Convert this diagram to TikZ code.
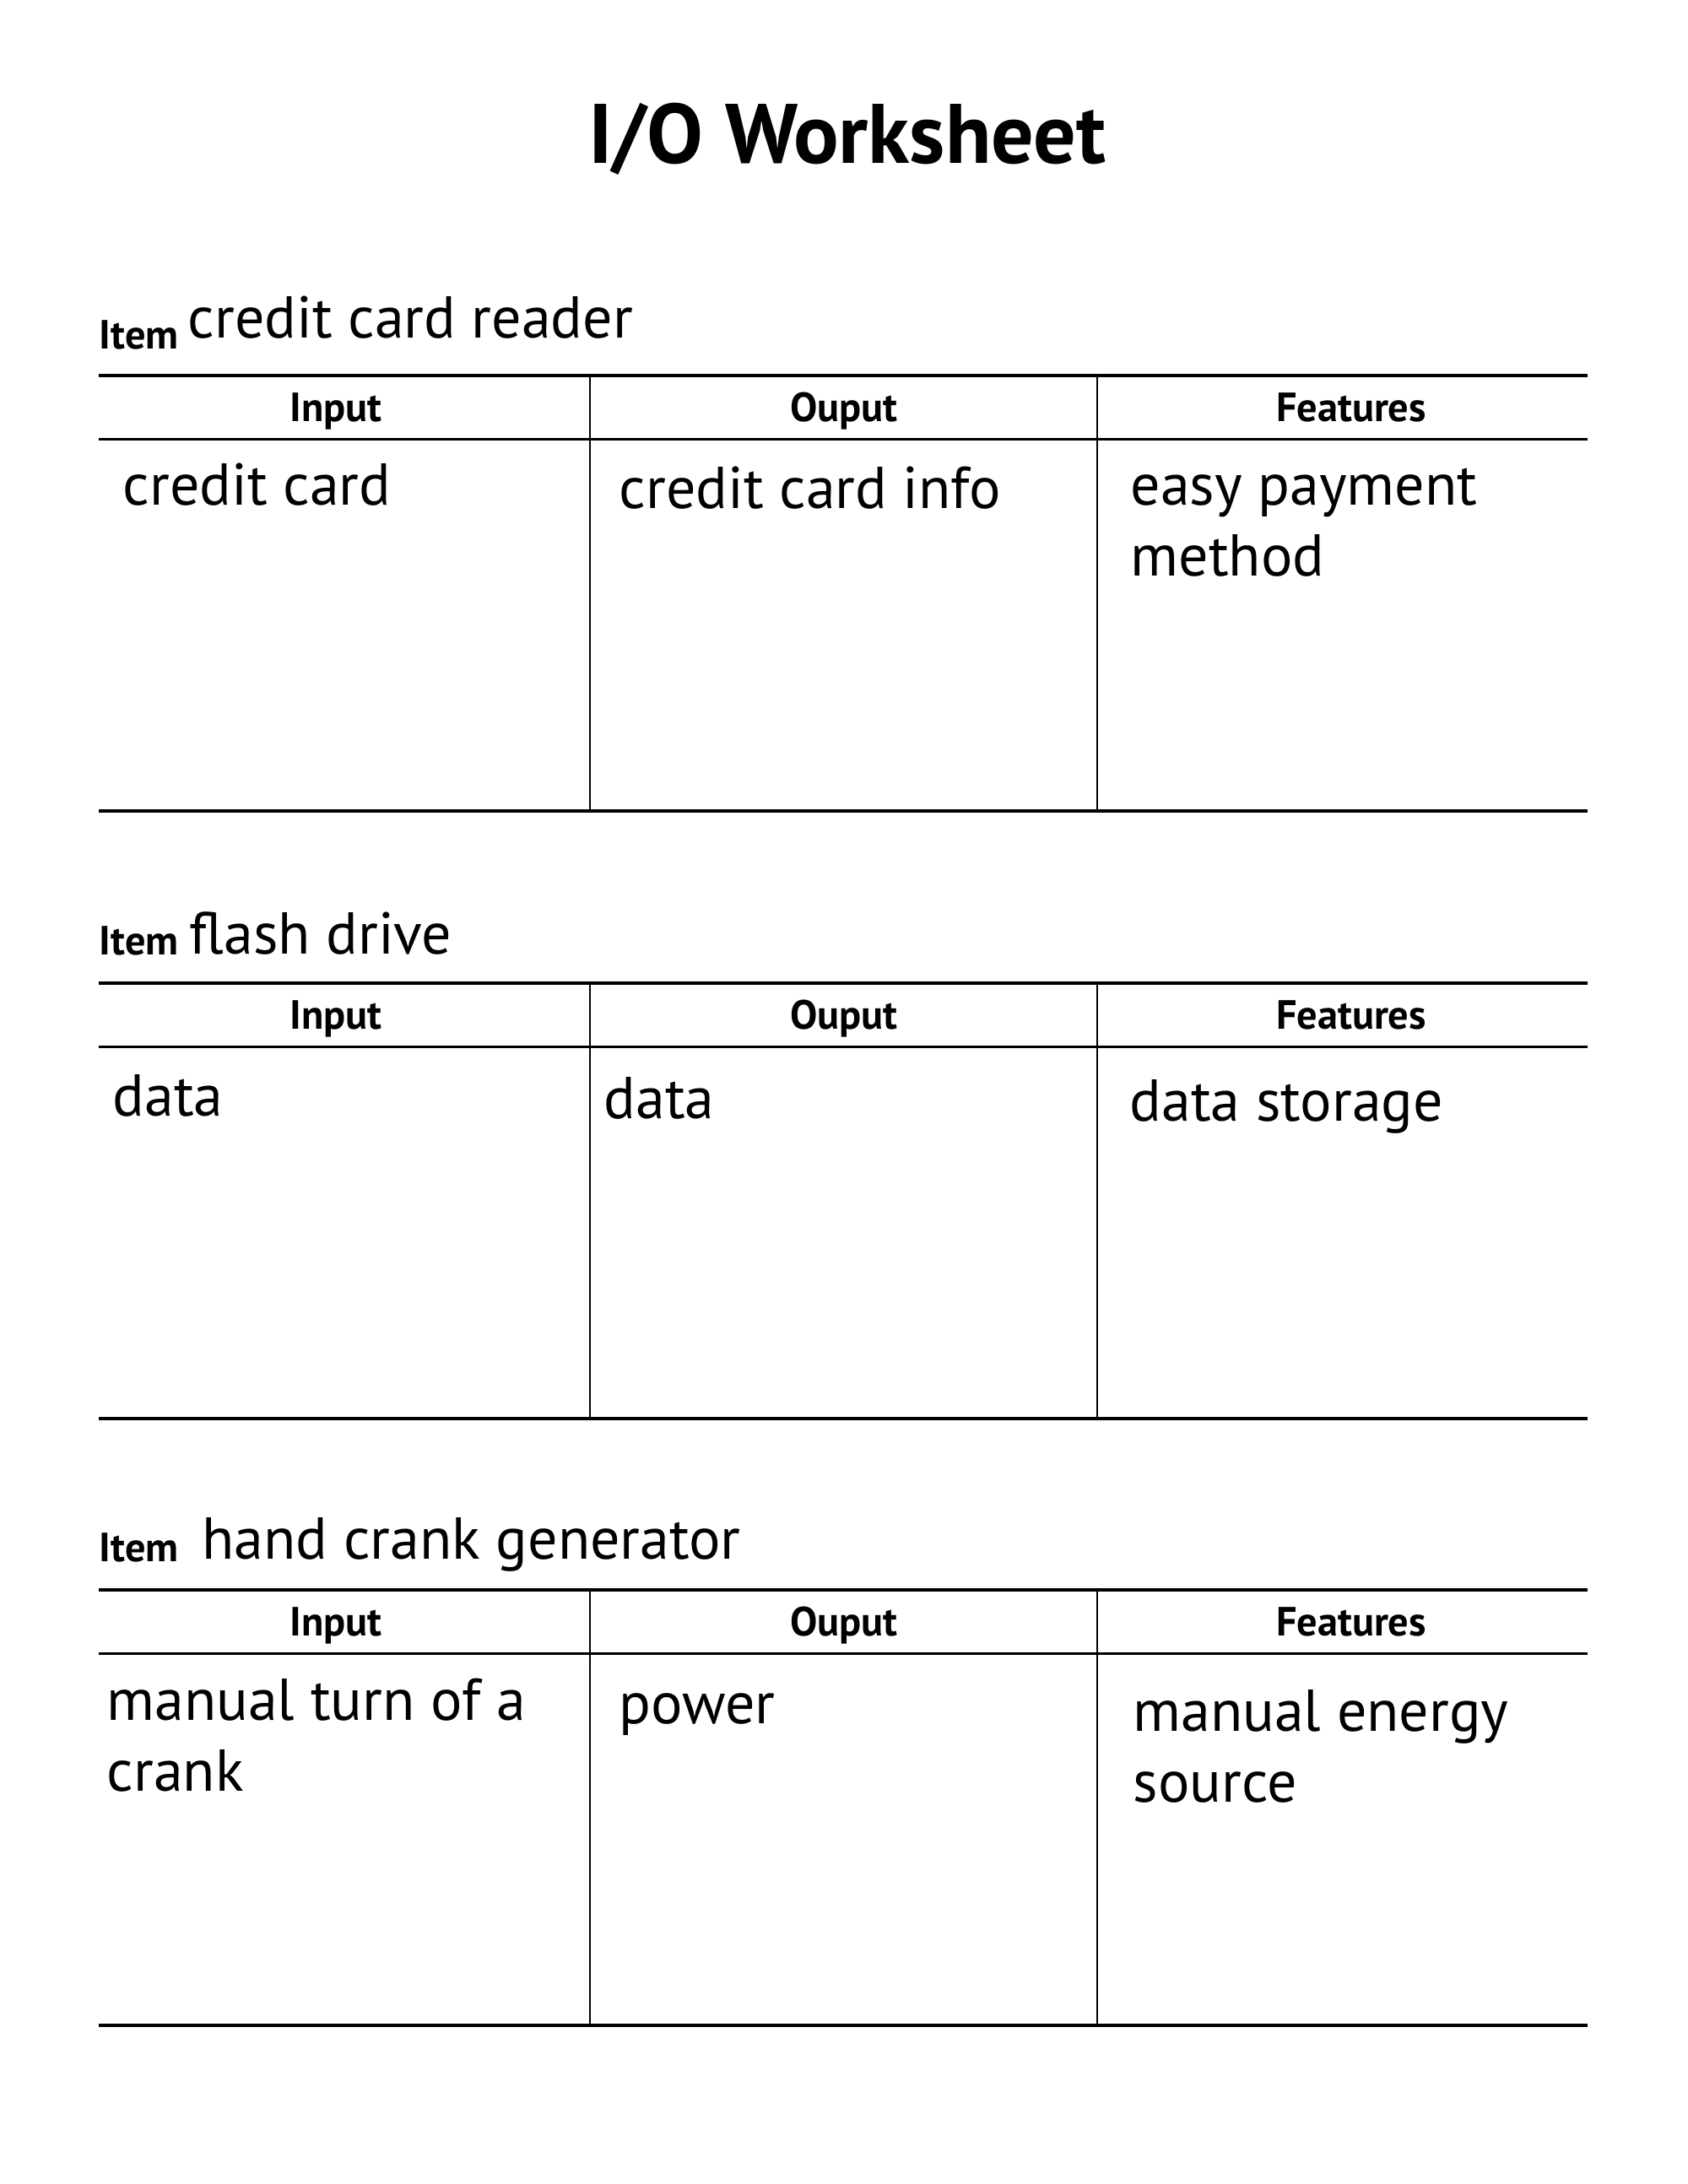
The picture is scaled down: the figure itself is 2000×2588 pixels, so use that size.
\documentclass[tikz,border=0pt]{standalone}
\usepackage{fontspec}
\setmainfont{PT Sans}
\begin{document}
\begin{tikzpicture}[x=0.3pt,y=-0.3pt,
  hline/.style={line width=1.05pt},
  vline/.style={line width=0.8pt},
  titletext/.style={font=\bfseries\fontsize{30}{36}\selectfont, anchor=base, inner sep=0},
  itemlbl/.style={font=\bfseries\fontsize{14.5}{17}\selectfont, anchor=base west, inner sep=0},
  itemname/.style={font=\fontsize{21}{25}\selectfont, anchor=base west, inner sep=0},
  headtext/.style={font=\bfseries\fontsize{14.5}{17}\selectfont, anchor=base, inner sep=0},
  celltext/.style={font=\fontsize{21}{25.2}\selectfont, anchor=base west, inner sep=0, align=left}]
\useasboundingbox (0,0) rectangle (2000,2588);
\node[titletext] (title) at (1004,193) {I/O Worksheet};
% tables
\foreach \t [count=\i] in {445,1165,1884}{
  \coordinate (tl\i) at (117,\t);
  \coordinate (tr\i) at (1881,\t);
  \coordinate (hl\i) at (117,\t+75.5);
  \coordinate (hr\i) at (1881,\t+75.5);
  \coordinate (bl\i) at (117,\t+516);
  \coordinate (br\i) at (1881,\t+516);
  \coordinate (va\i) at (699,\t);
  \coordinate (vab\i) at (699,\t+516);
  \coordinate (vb\i) at (1300,\t);
  \coordinate (vbb\i) at (1300,\t+516);
  \draw[hline] (tl\i) -- (tr\i);
  \draw[hline] (hl\i) -- (hr\i);
  \draw[hline] (bl\i) -- (br\i);
  \draw[vline] (va\i) -- (vab\i);
  \draw[vline] (vb\i) -- (vbb\i);
  \node[headtext] (hin\i) at (398,\t+54) {Input};
  \node[headtext] (hout\i) at (1000,\t+54) {Ouput};
  \node[headtext] (hfeat\i) at (1601,\t+54) {Features};
}
% table 1
\node[itemlbl] (item1) at (117,413) {Item};
\node[itemname] (name1) at (222,400) {credit card reader};
\node[celltext] (in1) at (145,598) {credit card};
\node[celltext] (out1) at (733,602) {credit card info};
\node[celltext] (feat1) at (1339,682) {easy payment\\method};
% table 2
\node[itemlbl] (item2) at (117,1131) {Item};
\node[itemname] (name2) at (224,1130) {flash drive};
\node[celltext] (in2) at (133,1322) {data};
\node[celltext] (out2) at (715,1325) {data};
\node[celltext] (feat2) at (1338,1328) {data storage};
% table 3
\node[itemlbl] (item3) at (117,1850) {Item};
\node[itemname] (name3) at (239,1847) {hand crank generator};
\node[celltext] (in3) at (126,2122) {manual turn of a\\crank};
\node[celltext] (out3) at (733,2042) {power};
\node[celltext] (feat3) at (1342,2135) {manual energy\\source};
\end{tikzpicture}
\end{document}
